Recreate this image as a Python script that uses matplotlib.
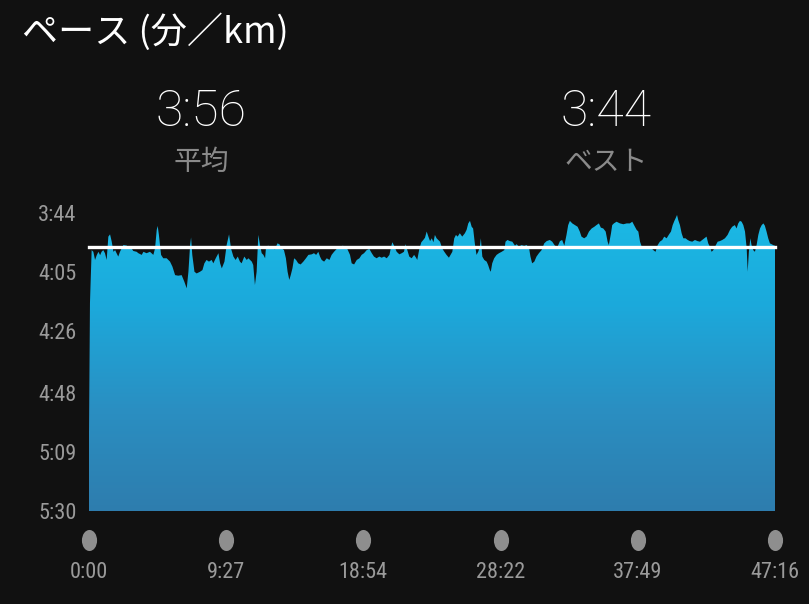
import numpy as np
import matplotlib
matplotlib.use("Agg")
import matplotlib.pyplot as plt
from matplotlib import font_manager as fm
from matplotlib.path import Path
from matplotlib.transforms import Affine2D, blended_transform_factory
from matplotlib.colors import LinearSegmentedColormap

# elapsed time (s) and pace (s per km)
time_s = [0, 4, 11, 18, 25, 32, 39, 46, 52, 59, 66, 73, 80, 87, 94, 101, 108, 114, 121, 128,
          135, 142, 156, 163, 176, 183, 197, 204, 218, 225, 238, 252, 266, 273, 280, 284, 289,
          298, 307, 321, 335, 345, 356, 369, 383, 394, 404, 411, 418, 422, 427, 436, 445, 459,
          469, 477, 486, 496, 507, 514, 524, 535, 542, 549, 560, 569, 579, 587, 597, 606, 615,
          624, 631, 642, 652, 659, 666, 673, 679, 686, 693, 700, 707, 714, 721, 728, 732, 741,
          755, 769, 779, 787, 797, 806, 814, 821, 828, 834, 841, 848, 856, 865, 875, 886, 897,
          907, 921, 930, 939, 948, 955, 962, 972, 983, 994, 1003, 1013, 1024, 1038, 1049, 1058,
          1068, 1079, 1086, 1096, 1107, 1118, 1127, 1137, 1148, 1159, 1169, 1178, 1189, 1200,
          1210, 1220, 1231, 1242, 1249, 1254, 1261, 1272, 1283, 1293, 1302, 1309, 1316, 1324,
          1334, 1344, 1352, 1357, 1366, 1374, 1382, 1389, 1396, 1403, 1410, 1417, 1424, 1430,
          1437, 1444, 1451, 1460, 1469, 1478, 1488, 1496, 1502, 1510, 1517, 1524, 1533, 1543,
          1554, 1561, 1568, 1575, 1582, 1588, 1595, 1602, 1609, 1616, 1620, 1626, 1634, 1644,
          1650, 1657, 1661, 1667, 1675, 1685, 1695, 1706, 1717, 1722, 1730, 1740, 1750, 1761,
          1768, 1777, 1788, 1799, 1809, 1819, 1825, 1832, 1841, 1850, 1860, 1871, 1882, 1892,
          1905, 1915, 1926, 1937, 1947, 1956, 1965, 1974, 1981, 1988, 1998, 2009, 2020, 2029,
          2036, 2047, 2057, 2067, 2078, 2089, 2098, 2108, 2116, 2126, 2136, 2144, 2149, 2158,
          2163, 2170, 2181, 2195, 2209, 2223, 2236, 2246, 2257, 2264, 2271, 2278, 2285, 2296,
          2305, 2315, 2326, 2333, 2342, 2351, 2360, 2370, 2378, 2388, 2398, 2406, 2413, 2420,
          2425, 2431, 2436, 2443, 2450, 2457, 2466, 2475, 2484, 2494, 2505, 2516, 2526, 2535,
          2544, 2553, 2560, 2567, 2574, 2581, 2588, 2599, 2608, 2618, 2629, 2640, 2650, 2659,
          2670, 2677, 2684, 2691, 2698, 2705, 2712, 2719, 2723, 2728, 2734, 2739, 2746, 2753,
          2760, 2767, 2774, 2781, 2788, 2794, 2801, 2808, 2815, 2822, 2833, 2836]
pace_s = [302, 256, 237.2, 237.8, 240.7, 239, 237.8, 239, 237.8, 237.2, 238.3, 240.7, 232.4,
          231.6, 234.2, 237.8, 237.2, 238.3, 239.5, 237.8, 236.6, 235.4, 235.6, 236.3, 236.6,
          237.5, 237.8, 238.3, 238.9, 237.8, 238.3, 237.8, 238.9, 236.6, 230.0, 228.6, 231.8,
          238.9, 240.1, 240.1, 241.3, 243.1, 246.1, 246.3, 246.1, 248.4, 250.8, 244.9, 235.4,
          232.7, 238.9, 244.9, 245.5, 244.9, 244.3, 241.9, 240.7, 241.3, 240.7, 241.9, 240.1,
          238.3, 241.9, 243.7, 241.3, 235.4, 231.6, 236.6, 239.5, 240.7, 239.5, 241.3, 241.9,
          239.5, 240.7, 240.1, 240.7, 241.3, 242.5, 249.6, 244.9, 231.8, 235.4, 238.3, 238.9,
          240.1, 236.0, 235.6, 236.6, 236.9, 234.8, 235.1, 236.6, 237.2, 240.1, 244.9, 247.8,
          246.1, 243.7, 240.1, 240.7, 241.9, 242.3, 241.3, 240.1, 238.9, 238.7, 238.3, 238.9,
          237.8, 239.5, 240.7, 241.3, 240.1, 240.7, 238.9, 237.8, 236.8, 236.6, 235.6, 236.0,
          236.8, 238.9, 241.9, 242.3, 240.7, 240.1, 238.9, 238.3, 237.2, 236.8, 238.3, 239.5,
          240.1, 239.5, 239.9, 239.5, 240.1, 238.9, 236.0, 234.4, 235.6, 237.8, 238.7, 238.3,
          237.8, 235.1, 237.2, 239.5, 240.1, 238.9, 239.9, 240.7, 236.6, 234.4, 233.6, 232.8,
          230.6, 232.4, 234.0, 233.0, 234.4, 231.8, 233.0, 233.6, 234.2, 236.6, 237.8, 238.9,
          239.9, 238.7, 237.8, 233.0, 231.8, 232.4, 231.2, 232.4, 231.2, 230.0, 227.7, 226.8,
          228.9, 229.5, 234.8, 238.9, 237.8, 236.0, 233.0, 239.5, 240.7, 241.3, 242.5, 244.3,
          244.9, 241.9, 240.1, 238.9, 238.3, 237.8, 237.2, 234.2, 233.6, 234.0, 234.2, 235.6,
          235.1, 236.0, 235.4, 235.7, 235.4, 236.3, 239.5, 241.9, 241.3, 239.5, 238.3, 237.2,
          234.8, 234.0, 233.6, 234.2, 235.6, 236.0, 234.0, 233.6, 235.6, 231.8, 228.3, 226.8,
          227.7, 228.3, 228.9, 230.6, 232.4, 233.0, 232.4, 230.6, 229.5, 228.9, 228.3, 227.7,
          229.2, 229.5, 230.6, 234.2, 235.4, 231.2, 228.3, 227.7, 227.1, 227.7, 228.0, 227.7,
          227.7, 227.1, 228.9, 230.0, 230.6, 234.2, 236.0, 236.6, 236.3, 236.0, 236.6, 237.2,
          237.8, 235.4, 234.2, 233.6, 232.4, 233.0, 231.6, 230.6, 228.3, 226.8, 225.9, 224.7,
          226.5, 228.3, 231.2, 233.0, 233.0, 233.6, 234.0, 234.2, 233.6, 234.0, 234.2, 233.6,
          233.0, 232.4, 234.8, 236.0, 237.8, 237.2, 236.0, 234.2, 234.0, 233.6, 233.0, 231.8,
          230.0, 228.9, 228.3, 229.5, 227.7, 226.8, 227.1, 228.3, 230.6, 236.6, 244.9, 237.8,
          233.0, 235.4, 237.2, 237.8, 235.4, 231.8, 229.5, 228.3, 227.7, 228.5, 230.6, 233.0,
          234.8, 235.1, 235.6, 235.6]

avg_pace = 236
best_pace = 224
pace_ticks = [224, 245, 266, 288, 309, 330]
time_ticks = [0, 567, 1134, 1702, 2269, 2836]

title = "ペース (分／km)"
avg_label = "平均"
best_label = "ベスト"


def mmss(sec):
    sec = int(round(sec))
    return f"{sec // 60}:{sec % 60:02d}"


names = {f.name for f in fm.fontManager.ttflist}
if "Roboto Condensed" in names:
    tick_font, tick_size = "Roboto Condensed", 16
else:
    tick_font, tick_size = "Roboto", 13
num_font = "Roboto"
cjk = ["Noto Sans CJK JP", "DejaVu Sans"]

bg = "#111111"
W, H = 809, 604
fig = plt.figure(figsize=(W / 100, H / 100), dpi=100, facecolor=bg)


def fx(px):
    return px / W


def fy(py):
    return 1 - py / H


# axes box goes a little above 3:44 so the fastest spikes are not cut
top_pace = 221
ax = fig.add_axes([fx(89), fy(511), (775 - 89) / W, (511 - 213 + 3 * 298 / 106) / H])
ax.set_facecolor(bg)
ax.set_xlim(0, 2836)
ax.set_ylim(330, top_pace)
for s in ax.spines.values():
    s.set_visible(False)

# gradient area clipped to the pace profile
poly = ax.fill_between(time_s, pace_s, 330, facecolor="none", edgecolor="none")
cmap = LinearSegmentedColormap.from_list("pace", ["#1bbbe6", "#1ca9db", "#2a8fc2", "#2e7dae"])
grad = np.linspace(0, 1, 256).reshape(-1, 1)
im = ax.imshow(grad, cmap=cmap, aspect="auto", extent=[0, 2836, 330, top_pace],
               origin="upper", zorder=1)
im.set_clip_path(poly.get_paths()[0], transform=ax.transData)

ax.axhline(avg_pace, color="white", lw=2.4, zorder=3, clip_on=False)

ax.set_yticks(pace_ticks, [mmss(p) for p in pace_ticks])
ax.set_xticks(time_ticks, [mmss(t) for t in time_ticks])
ax.tick_params(axis="y", length=0, pad=9, labelcolor="#9a9a9a", labelsize=tick_size)
ax.tick_params(axis="x", length=0, pad=37, labelcolor="#9a9a9a", labelsize=tick_size)
for lab in ax.get_xticklabels() + ax.get_yticklabels():
    lab.set_fontfamily(tick_font)

# grey dots under the time ticks (slightly narrow, like the screenshot)
dot = Path.unit_circle().transformed(Affine2D().scale(0.72, 1.0))
tr = blended_transform_factory(ax.transData, fig.transFigure)
ax.scatter(time_ticks, [fy(540)] * len(time_ticks), marker=dot, s=230, color="#8e8e8e",
           transform=tr, clip_on=False, zorder=4, linewidths=0)

fig.text(fx(22), fy(32), title, color="white", fontsize=26, family=cjk, va="center", ha="left")
fig.text(fx(201), fy(112), mmss(avg_pace), color="white", fontsize=36, family=num_font,
         fontweight="light", ha="center", va="center")
fig.text(fx(606), fy(112), mmss(best_pace), color="white", fontsize=36, family=num_font,
         fontweight="light", ha="center", va="center")
fig.text(fx(201), fy(162), avg_label, color="#8a8a8a", fontsize=20, family=cjk,
         ha="center", va="center")
fig.text(fx(606), fy(162), best_label, color="#8a8a8a", fontsize=20, family=cjk,
         ha="center", va="center")

fig.savefig("out.png", dpi=100, facecolor=bg)
